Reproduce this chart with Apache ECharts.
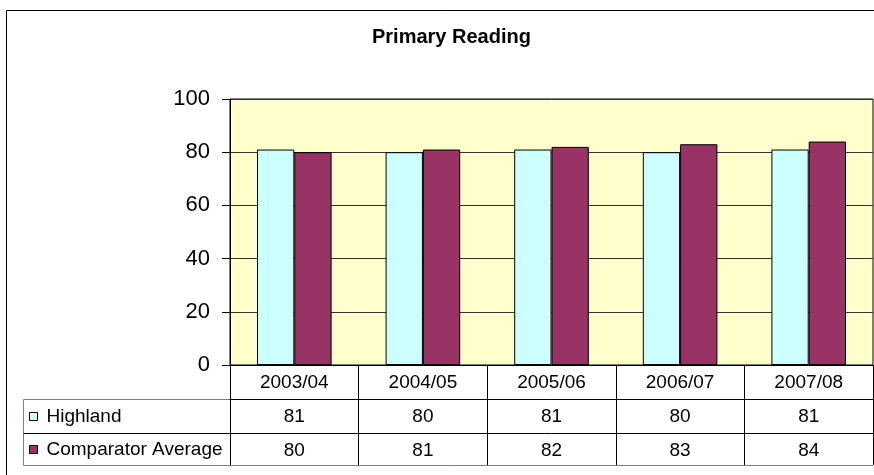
<!DOCTYPE html>
<html>
<head>
<meta charset="utf-8">
<script src="https://cdn.jsdelivr.net/npm/echarts@6/dist/echarts.min.js"></script>
<style>
    html, body { margin: 0; padding: 0; background: #fff; }
    #chart { width: 874px; height: 475px; }
</style>
</head>
<body>
<div id="chart"></div>
<script>
const years = ["2003/04", "2004/05", "2005/06", "2006/07", "2007/08"];
const highland = [81, 80, 81, 80, 81];
const comparatorAverage = [80, 81, 82, 83, 84];
const yTicks = [0, 20, 40, 60, 80, 100];

const font = "'Liberation Sans', Arial, sans-serif";
const gridLine = "#808080";

const chart = echarts.init(document.getElementById("chart"));

// each table row is just another category axis pushed down under the plot
function tableAxis(labels, offset, tickLength) {
    return {
        type: "category",
        data: labels,
        position: "bottom",
        offset: offset,
        boundaryGap: true,
        axisLine: { show: true, lineStyle: { color: "#000", width: 1 } },
        axisTick: {
            show: true,
            alignWithLabel: false,
            interval: 0,
            length: tickLength,
            lineStyle: { color: "#000", width: 1 },
        },
        axisLabel: {
            interval: 0,
            margin: 8,
            color: "#000",
            fontFamily: font,
            fontSize: 19,
        },
        splitLine: { show: false },
    };
}

function rowLegend(name, top) {
    return {
        data: [name],
        left: 29,
        top: top,
        padding: 0,
        icon: "rect",
        itemWidth: 8,
        itemHeight: 8,
        itemStyle: { borderColor: "#000", borderWidth: 1 },
        selectedMode: false,
        textStyle: {
            color: "#000",
            fontFamily: font,
            fontSize: 19,
            lineHeight: 19,
            padding: [0, 0, 0, 4],
        },
    };
}

chart.setOption({
    animation: false,
    title: {
        text: "Primary Reading",
        left: 367,
        top: 22,
        textStyle: {
            color: "#000",
            fontFamily: font,
            fontSize: 20,
            fontWeight: "bold",
        },
    },
    legend: [
        rowLegend("Highland", 407),
        rowLegend("Comparator Average", 440),
    ],
    grid: {
        left: 230,
        right: 1,
        top: 99,
        bottom: 110,
        show: true,
        backgroundColor: "#ffffcc",
        borderColor: "#000",
        borderWidth: 1,
    },
    xAxis: [
        tableAxis(years, 0, 34),
        tableAxis(highland.map(String), 34, 34),
        tableAxis(comparatorAverage.map(String), 68, 32),
    ],
    yAxis: {
        type: "value",
        min: yTicks[0],
        max: yTicks[yTicks.length - 1],
        interval: 20,
        axisLine: { show: true, lineStyle: { color: "#000", width: 1 } },
        axisTick: { show: true, length: 8, lineStyle: { color: "#000" } },
        axisLabel: {
            margin: 20,
            color: "#000",
            fontFamily: font,
            fontSize: 22,
        },
        splitLine: { show: true, lineStyle: { color: "#333", width: 1 } },
    },
    series: [
        {
            name: "Highland",
            type: "bar",
            xAxisIndex: 0,
            data: highland,
            barGap: "0%",
            barCategoryGap: "42%",
            itemStyle: { color: "#ccffff", borderColor: "#000", borderWidth: 1 },
        },
        {
            name: "Comparator Average",
            type: "bar",
            xAxisIndex: 0,
            data: comparatorAverage,
            barGap: "0%",
            barCategoryGap: "42%",
            itemStyle: { color: "#993366", borderColor: "#000", borderWidth: 1 },
        },
    ],
    graphic: [
        // outer chart frame, runs off the right and bottom edge
        {
            type: "rect",
            shape: { x: 6.5, y: 10.5, width: 900, height: 500 },
            style: { fill: null, stroke: "#000", lineWidth: 1 },
            silent: true,
        },
        // legend column of the data table
        {
            type: "polyline",
            shape: { points: [[873, 399.5], [23.5, 399.5], [23.5, 465.5], [873, 465.5]] },
            style: { fill: null, stroke: gridLine, lineWidth: 1 },
            silent: true,
        },
        {
            type: "line",
            shape: { x1: 23.5, y1: 433.5, x2: 230, y2: 433.5 },
            style: { stroke: "#000", lineWidth: 1 },
            silent: true,
        },
    ],
});
</script>
</body>
</html>
